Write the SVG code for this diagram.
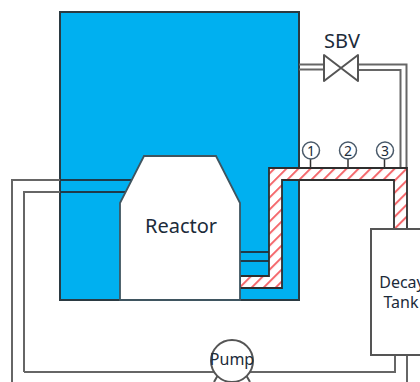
<svg xmlns="http://www.w3.org/2000/svg" width="420" height="382" viewBox="0 0 420 382">
<defs>
<pattern id="hatch" width="8.500" height="8.500" patternUnits="userSpaceOnUse" patternTransform="rotate(45 268 168)">
<rect width="8.500" height="8.500" fill="#fff"/>
<rect x="0" width="2" height="8.500" fill="#f4686c"/>
</pattern>
</defs>
<style>
.pipe{fill:none;stroke:#666;stroke-width:2}
.dark{fill:none;stroke:#1f3a4a;stroke-width:2}
.t{font-family:"Noto Sans","Open Sans",sans-serif;fill:#1c2b3a;text-anchor:middle}
.tag{fill:#fff;stroke:#4a5a6a;stroke-width:1.500}
.stem{stroke:#333;stroke-width:1.500}
</style>
<rect width="420" height="382" fill="#fff"/>
<g id="pool"><rect x="60" y="12" width="239" height="288" fill="#00b0f0" stroke="#2b3a42" stroke-width="2"/></g>
<g id="connectors">
<path class="pipe" d="M12 382V180H60M24 372V192H60M24 372H395V355M407 355V382"/>
<path class="dark" d="M60 180H132M60 192H126M240 252H270M240 261H270"/>
<path class="pipe" d="M299 64.500H324M299 69.500H324M358 64.500H406.500V168M358 70H400.500V168"/>
<path id="hatched-pipe" d="M240 276H269V168H407V229H394V180H282V288H240Z" fill="url(#hatch)" stroke="#2e2e2e" stroke-width="1.800"/>
<path class="stem" d="M310.500 159V168M348 159V168M384.500 159V168"/>
</g>
<g id="reactor"><path d="M120 300V203L144 156H216L240 203V300Z" fill="#fff" stroke="#3f5560" stroke-width="1.800"/><text class="t" x="181" y="233" font-size="20">Reactor</text></g>
<g id="sbv"><path d="M324 55V81L358 55V81Z" fill="#fff" stroke="#555" stroke-width="2" stroke-linejoin="round"/><text class="t" x="342" y="48" font-size="20">SBV</text></g>
<g id="tag1"><circle class="tag" cx="311" cy="150.500" r="8.500"/><text class="t" x="311" y="156" font-size="14">1</text></g>
<g id="tag2"><circle class="tag" cx="348" cy="150.500" r="8.500"/><text class="t" x="348" y="156" font-size="14">2</text></g>
<g id="tag3"><circle class="tag" cx="385" cy="150.500" r="8.500"/><text class="t" x="385" y="156" font-size="14">3</text></g>
<g id="decay-tank"><rect x="371" y="229" width="60" height="126" fill="#fff" stroke="#555" stroke-width="2"/><text class="t" x="402" y="288" font-size="16">Decay</text><text class="t" x="401" y="308" font-size="16">Tank</text></g>
<g id="pump"><path d="M218 375L214 382M246 375L250 382" stroke="#555" stroke-width="2" fill="none"/><circle cx="232" cy="361" r="21" fill="#fff" stroke="#555" stroke-width="2"/><text class="t" x="232" y="365" font-size="16">Pump</text></g>
</svg>
